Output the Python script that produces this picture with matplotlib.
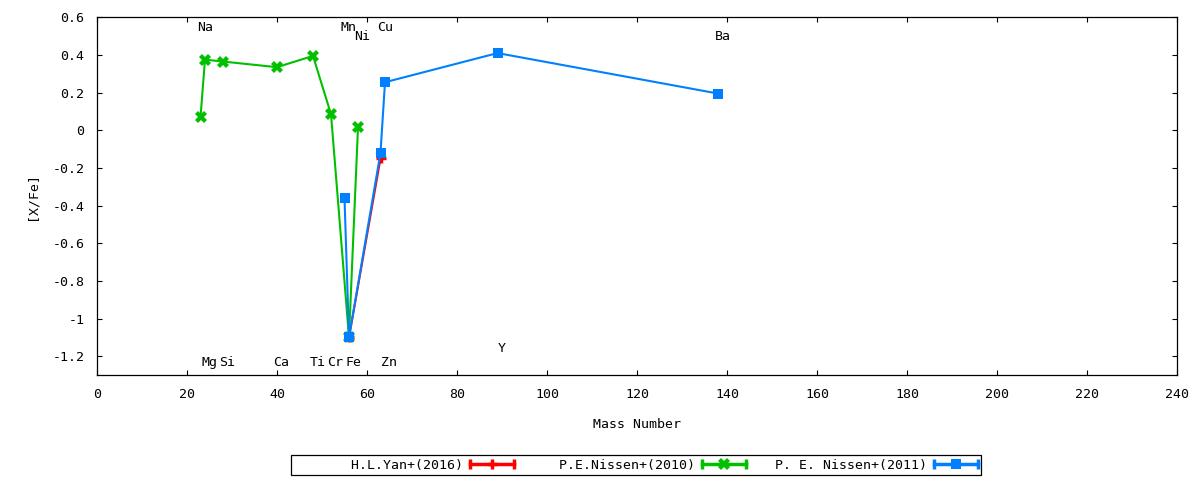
import matplotlib
matplotlib.use('Agg')
import matplotlib.pyplot as plt
from matplotlib.lines import Line2D
from matplotlib.legend_handler import HandlerLine2D, HandlerTuple

# data
yan_mass = [56, 63]
yan_xfe = [-1.10, -0.15]

nissen10_mass = [23, 24, 28, 40, 48, 52, 56, 58]
nissen10_xfe = [0.07, 0.375, 0.365, 0.335, 0.395, 0.085, -1.10, 0.015]

nissen11_mass = [55, 56, 63, 64, 89, 138]
nissen11_xfe = [-0.36, -1.10, -0.12, 0.255, 0.41, 0.195]

elem_names = ['Na', 'Mg', 'Si', 'Ca', 'Ti', 'Cr', 'Mn', 'Fe', 'Ni', 'Cu', 'Zn', 'Y', 'Ba']
elem_mass = [23, 24, 28, 40, 48, 52, 55, 56, 58, 63, 64, 89, 138]
elem_label_y = [0.545, -1.235, -1.235, -1.235, -1.235, -1.235, 0.545,
                -1.235, 0.497, 0.545, -1.235, -1.16, 0.497]

x_ticks = list(range(0, 241, 20))
y_ticks = [0.6, 0.4, 0.2, 0, -0.2, -0.4, -0.6, -0.8, -1, -1.2]
y_ticklabels = ['0.6', '0.4', '0.2', '0', '-0.2', '-0.4', '-0.6', '-0.8', '-1', '-1.2']

labels = ['H.L.Yan+(2016)', 'P.E.Nissen+(2010)', 'P. E. Nissen+(2011)']
colors = ['#ff0000', '#00c000', '#0080ff']

plt.rcParams['font.family'] = 'DejaVu Sans Mono'
plt.rcParams['font.size'] = 9.5

fig = plt.figure(figsize=(12, 4.8), dpi=100)
ax = fig.add_axes([97 / 1200, 1 - 375 / 480, 1080 / 1200, 357.7 / 480])

# marker style per series: (marker, size, edge width)
markers = [('+', 7, 2.5), ('X', 8.5, 0), ('s', 7.2, 0)]
series = [(yan_mass, yan_xfe), (nissen10_mass, nissen10_xfe), (nissen11_mass, nissen11_xfe)]
for (xs, ys), c, (mk, ms, mew) in zip(series, colors, markers):
    ax.plot(xs, ys, color=c, lw=1.5, marker=mk, ms=ms, mew=mew)

for name, m, y in zip(elem_names, elem_mass, elem_label_y):
    ax.annotate(name, (m, y), xytext=(3.2, 0), textcoords='offset points',
                ha='center', va='center')

ax.set_xlim(0, 240)
ax.set_ylim(-1.3, 0.6)
ax.set_xticks(x_ticks)
ax.set_yticks(y_ticks)
ax.set_yticklabels(y_ticklabels)
ax.tick_params(direction='in', length=3.5, width=0.8, top=True, right=True,
               labeltop=False, labelright=False, pad=9)
for s in ax.spines.values():
    s.set_linewidth(0.9)

ax.set_xlabel('Mass Number')
ax.set_ylabel('[X/Fe]')
ax.xaxis.set_label_coords(0.5, -0.137)
ax.xaxis.label.set_va('center')
ax.yaxis.set_label_coords(-(97 - 32) / 1080, 0.5)
ax.yaxis.label.set_va('center')

# gnuplot style key: right-justified text then a sample with error caps
handles = []
hmap = {}
for c, (mk, ms, mew) in zip(colors, markers):
    caps = Line2D([], [], color=c, lw=2.5, marker='|', ms=7, mew=2.5)
    mid = Line2D([], [], color=c, ls='none', marker=mk, ms=ms, mew=mew)
    hmap[caps] = HandlerLine2D(numpoints=2, marker_pad=0)
    hmap[mid] = HandlerLine2D(numpoints=1)
    handles.append((caps, mid))
hmap[tuple] = HandlerTuple(ndivide=1)

pad_labels = [lab.rjust(21) for lab in labels]
leg = fig.legend(handles, pad_labels, handler_map=hmap, ncol=3, markerfirst=False,
                 loc='center', bbox_to_anchor=(636.3 / 1200, 1 - 465 / 480),
                 handlelength=3.34, handletextpad=0.53, columnspacing=1.0,
                 borderpad=0.25, fancybox=False, framealpha=1, edgecolor='black')
leg.get_frame().set_linewidth(0.9)

fig.savefig('out.png', dpi=100)
